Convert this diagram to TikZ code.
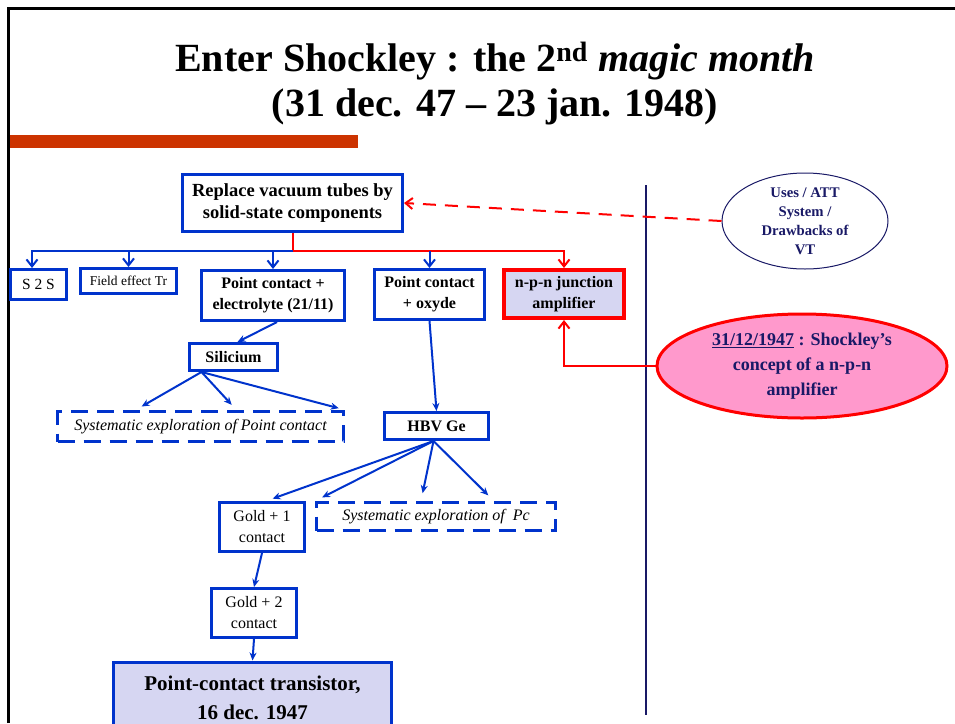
\documentclass[tikz,border=0pt]{standalone}
\usepackage{fontspec}
\setmainfont{Liberation Serif}
\usetikzlibrary{arrows.meta}
\usetikzlibrary{shapes.geometric, positioning}
\definecolor{boxblue}{RGB}{0,51,204}
\definecolor{navy}{RGB}{25,25,102}
\definecolor{lavender}{RGB}{214,214,242}
\definecolor{barred}{RGB}{204,51,0}
\definecolor{pinkfill}{RGB}{255,153,204}
\tikzset{
    stepbox/.style={draw=boxblue, line width=3pt, fill=white, align=center, inner sep=0pt},
    dashbox/.style={stepbox, dash pattern=on 17pt off 9pt},
    bluearrow/.style={draw=boxblue, line width=2pt, -{Stealth[length=8pt,width=7pt]}},
    topblue/.style={draw=boxblue, line width=2pt, -{Straight Barb[length=7pt,width=11pt]}},
    topred/.style={draw=red, line width=2pt, -{Straight Barb[length=7pt,width=11pt]}},
}
\newcommand{\fs}[2]{\fontsize{#1}{#2}\selectfont}

\begin{document}
\begin{tikzpicture}[x=1pt, y=-1pt]
    \useasboundingbox (0,0) rectangle (955,723);

    % Slide frame and title
    \draw[line width=3pt] (8,723) -- (8,8) -- (955,8);
    \fill[barred] (10,135) rectangle (358,148);
    \node[anchor=base, font=\fs{40}{44}\bfseries] (title) at (495,71)
        {Enter Shockley : the 2\textsuperscript{nd} \textit{magic month}};
    \node[anchor=base, font=\fs{40}{44}\bfseries] (dates) at (495,116)
        {(31 dec. 47 -- 23 jan. 1948)};
    \draw[navy, line width=2pt] (646,185) -- (646,715);

    % Top node and its branches
    \node[stepbox, minimum width=220pt, minimum height=57pt, font=\fs{18.5}{22}\bfseries] (replace) at (292.5,203)
        {Replace vacuum tubes by\\solid-state components};
    \coordinate (split) at (292.5,251);

    \node[stepbox, minimum width=56pt, minimum height=30pt, font=\fs{15.5}{18}] (s2s) at (38.5,284.5) {S 2 S};
    \node[stepbox, minimum width=96pt, minimum height=25pt, font=\fs{13.5}{16}] (fet) at (128.5,281) {Field effect Tr};
    \node[stepbox, minimum width=143pt, minimum height=50pt, font=\fs{16}{21}\bfseries] (electro) at (273,295.5)
        {Point contact +\\electrolyte (21/11)};
    \node[stepbox, minimum width=110pt, minimum height=50pt, font=\fs{16}{21}\bfseries] (oxyde) at (429.5,294.5)
        {Point contact\\+ oxyde};
    \node[stepbox, draw=red, line width=4pt, fill=lavender, minimum width=120pt, minimum height=48pt,
        font=\fs{16}{21}\bfseries] (npn) at (564,294) {n-p-n junction\\amplifier};

    \draw[red, line width=2pt] (replace.south) -- (split);
    \draw[topblue] (split) -| ([xshift=-6.5pt]s2s.north);
    \draw[topblue] (split) -| (fet.north);
    \draw[topblue] (split) -| (electro.north);
    \draw[topred] (split) -| (npn.north);
    \draw[topblue] (oxyde.north |- split) -- (oxyde.north);

    % Silicium branch
    \node[stepbox, minimum width=88pt, minimum height=27pt, font=\fs{16}{19}\bfseries] (silicium) at (233.5,357) {Silicium};
    \node[dashbox, minimum width=286pt, minimum height=30pt, font=\fs{16}{19}\itshape] (syspoint) at (200.5,426.5)
        {Systematic exploration of Point contact};
    \draw[bluearrow] ([xshift=4pt]electro.south) -- ([xshift=4pt]silicium.north);
    \draw[bluearrow, shorten >=7pt] ([xshift=-32pt]silicium.south) -- ([xshift=-65pt]syspoint.north);
    \draw[bluearrow, shorten >=7pt] ([xshift=-32pt]silicium.south) -- ([xshift=36pt]syspoint.north);
    \draw[bluearrow, shorten >=7pt] ([xshift=-32pt]silicium.south) -- ([xshift=145pt]syspoint.north);

    % Germanium branch
    \node[stepbox, minimum width=104pt, minimum height=27pt, font=\fs{16}{19}\bfseries] (hbv) at (436.5,426) {HBV Ge};
    \node[stepbox, minimum width=85pt, minimum height=49pt, font=\fs{16}{21}] (gold1) at (262,527)
        {Gold + 1\\contact};
    \node[dashbox, minimum width=239pt, minimum height=28pt, font=\fs{16}{19}\itshape] (syspc) at (436,516.5)
        {Systematic exploration of~ Pc};
    \node[stepbox, minimum width=85pt, minimum height=49pt, font=\fs{16}{21}] (gold2) at (254,613)
        {Gold + 2\\contact};
    \node[stepbox, fill=lavender, minimum width=278pt, minimum height=72pt, font=\fs{21}{29}\bfseries] (pct) at (252.5,698)
        {Point-contact transistor,\\16 dec. 1947};

    \draw[bluearrow] (oxyde.south) -- (hbv.north);
    \draw[bluearrow, shorten >=7pt] ([xshift=-3pt]hbv.south) -- ([xshift=4pt]gold1.north);
    \draw[bluearrow, shorten >=8pt] ([xshift=-3pt]hbv.south) -- ([xshift=-121pt]syspc.north);
    \draw[bluearrow, shorten >=8pt] ([xshift=-3pt]hbv.south) -- ([xshift=-15pt]syspc.north);
    \draw[bluearrow, shorten >=8pt] ([xshift=-3pt]hbv.south) -- ([xshift=58pt]syspc.north);
    \draw[bluearrow] (gold1.south) -- (gold2.north);
    \draw[bluearrow] (gold2.south) -- (pct.north);

    % Right-hand notes
    \node[ellipse, draw=navy, line width=1pt, fill=white, minimum width=166pt, minimum height=96pt, inner sep=0pt,
        align=center, text=navy, font=\fs{14.7}{19}\bfseries] (uses) at (805,221)
        {Uses / ATT\\System /\\Drawbacks of\\VT};
    \node[ellipse, draw=red, line width=3pt, fill=pinkfill, minimum width=290pt, minimum height=104pt, inner sep=0pt,
        align=center, text=navy, font=\fs{18}{25}\bfseries] (shockley) at (802,366)
        {\underline{31/12/1947} : Shockley's\\concept of a n-p-n\\amplifier};

    \draw[red, line width=2pt, dash pattern=on 13pt off 9pt, -{Straight Barb[length=7pt,width=11pt]}]
        (uses.west) -- (replace.east);
    \draw[topred] (shockley.west) -| (npn.south);

\end{tikzpicture}
\end{document}
